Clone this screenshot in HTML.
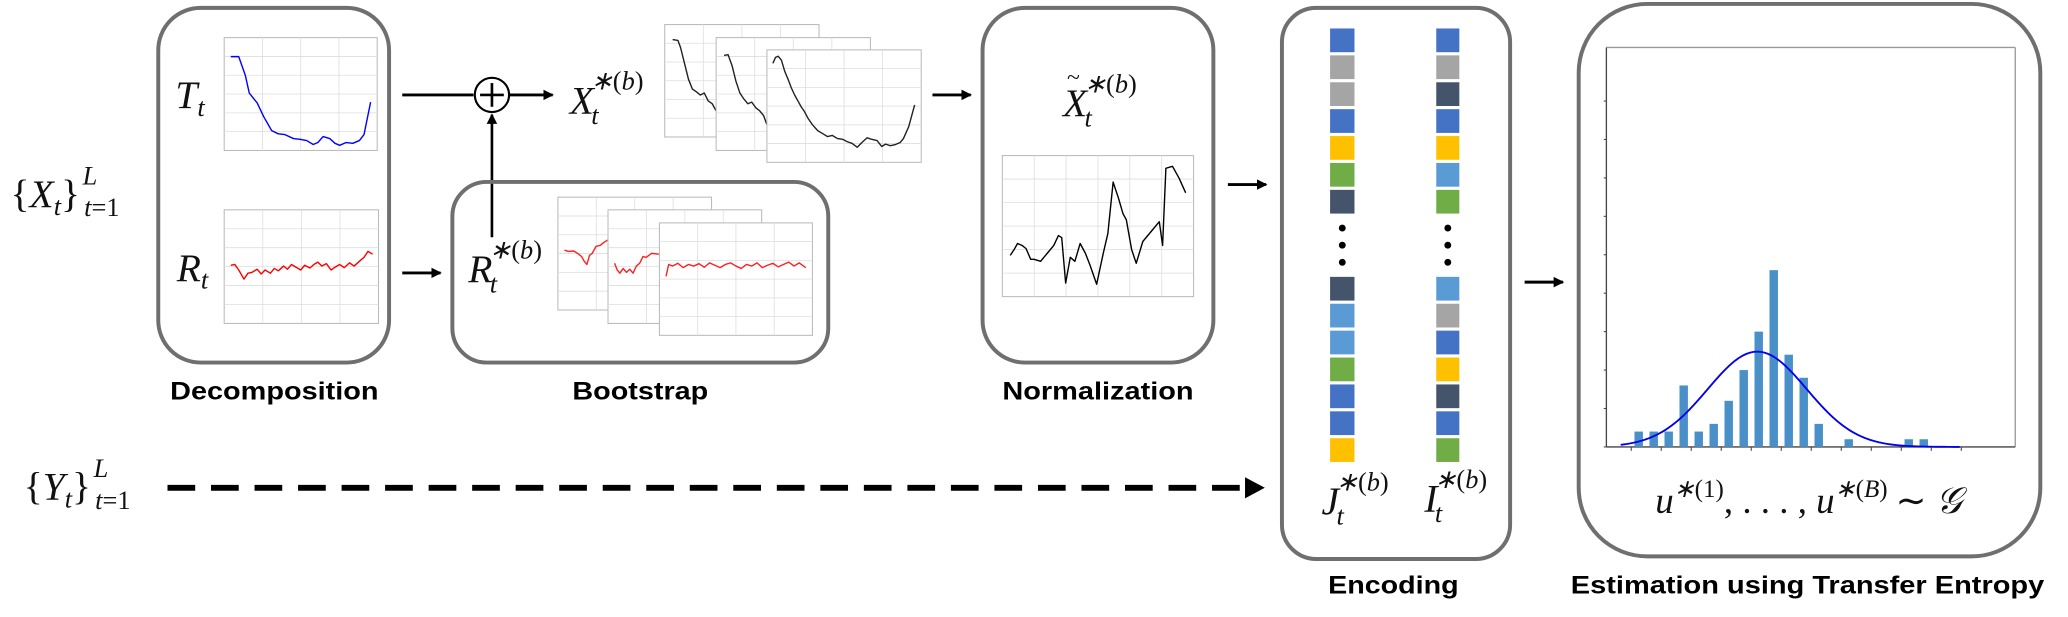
<!DOCTYPE html>
<html><head><meta charset="utf-8"><style>
html,body{margin:0;padding:0;background:#fff;}
svg{display:block;}
.m{font-family:"Liberation Serif",serif;font-style:italic;fill:#111;}
.r{font-family:"Liberation Serif",serif;font-style:normal;fill:#111;}
.lab{font-family:"Liberation Sans",sans-serif;font-weight:bold;fill:#000;font-size:19px;}
.box{fill:none;stroke:#6f6f6f;stroke-width:3;}
.grid{stroke:#ddd;stroke-width:0.6;}
.frame{fill:#fff;stroke:#bbb;stroke-width:0.8;}
.ln{fill:none;vector-effect:non-scaling-stroke;stroke-width:1.4;stroke-linejoin:round;}
</style></head><body>
<svg id="fig" width="2068" height="617" viewBox="0 0 1568 468" preserveAspectRatio="none">
<defs>
<marker id="ah" markerWidth="8" markerHeight="8" refX="7" refY="4" orient="auto" markerUnits="userSpaceOnUse"><path d="M0,0 L8,4 L0,8 z" fill="#000"/></marker>
<marker id="ah2" markerWidth="12" markerHeight="12" refX="11" refY="6" orient="auto" markerUnits="userSpaceOnUse"><path d="M0,0 L12,6 L0,12 z" fill="#000"/></marker>
</defs>

<!-- Input labels -->
<text class="m" x="8" y="157" font-size="30"><tspan class="r">{</tspan>X<tspan font-size="20" dy="6">t</tspan><tspan class="r" dy="-6">}</tspan><tspan font-size="20" dx="2" dy="-17">L</tspan><tspan font-size="20" dx="-10" dy="24">t</tspan><tspan class="r" font-size="20">=1</tspan></text>
<text class="m" x="18" y="379" font-size="30"><tspan class="r">{</tspan>Y<tspan font-size="20" dy="6">t</tspan><tspan class="r" dy="-6">}</tspan><tspan font-size="20" dx="2" dy="-17">L</tspan><tspan font-size="20" dx="-10" dy="24">t</tspan><tspan class="r" font-size="20">=1</tspan></text>

<!-- Decomposition -->
<rect class="box" x="120" y="6" width="175" height="269" rx="32"/>
<text class="m" x="133" y="82" font-size="30">T<tspan font-size="20" dy="6">t</tspan></text>
<text class="m" x="134" y="213" font-size="30">R<tspan font-size="20" dy="6">t</tspan></text>
<g id="ch-trend"></g>
<g id="ch-res"></g>
<text class="lab" x="129" y="303" textLength="158" lengthAdjust="spacingAndGlyphs">Decomposition</text>

<!-- arrows top -->
<line x1="305" y1="72" x2="359" y2="72" stroke="#000" stroke-width="2.2"/>
<circle cx="373" cy="72" r="13" fill="#fff" stroke="#000" stroke-width="1.6"/>
<line x1="364" y1="72" x2="382" y2="72" stroke="#000" stroke-width="2"/>
<line x1="373" y1="63" x2="373" y2="81" stroke="#000" stroke-width="2"/>
<line x1="386" y1="72" x2="419" y2="72" stroke="#000" stroke-width="2.2" marker-end="url(#ah)"/>
<line x1="373" y1="180" x2="373" y2="87" stroke="#000" stroke-width="2" marker-end="url(#ah)"/>
<line x1="305" y1="207" x2="334" y2="207" stroke="#000" stroke-width="2.2" marker-end="url(#ah)"/>
<text class="m" x="432" y="86" font-size="30">X<tspan font-size="20" dx="-2" dy="8">t</tspan><tspan font-size="20" dx="-6" dy="-26">∗</tspan><tspan class="r" font-size="20">(</tspan><tspan font-size="20">b</tspan><tspan class="r" font-size="20">)</tspan></text>
<g id="ch-xs"></g>
<line x1="707" y1="72" x2="736" y2="72" stroke="#000" stroke-width="2.2" marker-end="url(#ah)"/>

<!-- Bootstrap -->
<rect class="box" x="343" y="138" width="285" height="137" rx="26"/>
<text class="m" x="355" y="214" font-size="30">R<tspan font-size="20" dx="-2" dy="8">t</tspan><tspan font-size="20" dx="-6" dy="-26">∗</tspan><tspan class="r" font-size="20">(</tspan><tspan font-size="20">b</tspan><tspan class="r" font-size="20">)</tspan></text>
<g id="ch-rs"></g>
<text class="lab" x="434" y="303" textLength="103" lengthAdjust="spacingAndGlyphs">Bootstrap</text>

<!-- Normalization -->
<rect class="box" x="745" y="6" width="175" height="269" rx="32"/>
<text class="m" x="806" y="88" font-size="30">X<tspan font-size="20" dx="-2" dy="8">t</tspan><tspan font-size="20" dx="-6" dy="-26">∗</tspan><tspan class="r" font-size="20">(</tspan><tspan font-size="20">b</tspan><tspan class="r" font-size="20">)</tspan></text>
<text class="r" x="809" y="64" font-size="18">~</text>
<g id="ch-norm"></g>
<text class="lab" x="760" y="303" textLength="145" lengthAdjust="spacingAndGlyphs">Normalization</text>
<line x1="931" y1="140" x2="960" y2="140" stroke="#000" stroke-width="2.2" marker-end="url(#ah)"/>

<!-- Dashed Y line -->
<line x1="127" y1="370" x2="944" y2="370" stroke="#000" stroke-width="4.5" stroke-dasharray="21,12"/>
<path d="M944,362 L959,370 L944,378 z" fill="#000"/>

<!-- Encoding -->
<rect class="box" x="972" y="6" width="173" height="418" rx="26"/>
<g id="enc"></g>
<text class="m" x="1002" y="390" font-size="30">J<tspan font-size="20" dx="-2" dy="8">t</tspan><tspan font-size="20" dx="-6" dy="-26">∗</tspan><tspan class="r" font-size="20">(</tspan><tspan font-size="20">b</tspan><tspan class="r" font-size="20">)</tspan></text>
<text class="m" x="1080" y="388" font-size="30">I<tspan font-size="20" dx="-2" dy="8">t</tspan><tspan font-size="20" dx="-6" dy="-26">∗</tspan><tspan class="r" font-size="20">(</tspan><tspan font-size="20">b</tspan><tspan class="r" font-size="20">)</tspan></text>
<text class="lab" x="1007" y="450" textLength="99" lengthAdjust="spacingAndGlyphs">Encoding</text>
<line x1="1156" y1="214" x2="1185" y2="214" stroke="#000" stroke-width="2.2" marker-end="url(#ah)"/>

<!-- Estimation -->
<rect class="box" x="1197" y="3" width="350" height="419" rx="52"/>
<g id="hist"></g>
<text class="m" x="1255" y="389" font-size="28">u<tspan font-size="19" dy="-12">∗</tspan><tspan class="r" font-size="19">(1)</tspan><tspan class="r" dy="12">, . . . ,</tspan> u<tspan font-size="19" dy="-12">∗</tspan><tspan class="r" font-size="19">(</tspan><tspan font-size="19">B</tspan><tspan class="r" font-size="19">)</tspan><tspan class="r" dy="12" dx="6">∼</tspan> <tspan font-family="Liberation Serif" font-style="italic">𝒢</tspan></text>
<text class="lab" x="1191" y="450" textLength="359" lengthAdjust="spacingAndGlyphs">Estimation using Transfer Entropy</text>
</svg>
<script>
// ---- data arrays (zoom-space coordinates for illustrative mini series) ----
const trendX=[350,362,372,378,390,400,412,422,432,445,455,465,475,482,490,500,508,515,525,535,545,552,562];
const trendY=[143,143,190,235,260,295,330,338,340,350,352,355,365,360,345,350,362,367,360,362,355,340,258];
const resX=[350,356,362,370,376,382,390,396,402,410,416,422,430,436,442,450,456,462,470,476,482,488,495,502,508,515,522,530,537,545,552,558,565];
const resY=[670,668,682,705,690,688,680,692,682,690,678,684,672,680,668,676,682,670,677,668,662,672,666,682,675,668,676,664,672,660,650,635,642];
const xs1X=[1020,1028,1032,1038,1044,1050,1056,1062,1068,1074,1080,1086];
const xs1Y=[100,102,120,160,200,225,232,240,235,255,262,280];
const xs2X=[1098,1104,1110,1116,1122,1128,1134,1140,1146,1152,1158,1163];
const xs2Y=[140,138,165,205,235,250,262,258,272,280,292,315];
const xs3X=[1172,1176,1180,1185,1190,1195,1200,1205,1210,1215,1220,1225,1232,1240,1248,1255,1262,1270,1278,1285,1292,1300,1307,1315,1322,1330,1337,1343,1350,1358,1365,1370,1378,1387];
const xs3Y=[160,145,142,152,180,200,222,240,255,270,282,298,315,330,338,345,342,350,352,358,362,372,360,348,352,355,370,364,368,365,360,350,320,265];
const rs1X=[856,862,870,876,882,886,890,894,898,904,910,916,923];
const rs1Y=[632,635,634,640,648,660,668,645,640,622,620,612,605];
const rs2X=[932,936,940,945,950,955,960,965,970,975,980,988,1000];
const rs2Y=[665,682,690,678,688,680,690,672,665,648,650,640,642];
const rs3X=[1010,1014,1020,1028,1036,1044,1052,1060,1068,1076,1084,1092,1100,1108,1116,1124,1132,1140,1148,1156,1164,1172,1180,1188,1196,1204,1212,1222];
const rs3Y=[698,668,672,665,676,668,672,666,675,664,670,676,668,664,672,678,668,672,664,676,670,665,674,668,662,672,664,676];
const normX=[-36,-30,-25,-18,-12,-5,0,10,20,30,37,42,48,55,62,70,78,85,95,105,112,120,128,135,140,148,155,165,180,190,195,200,210,220,230];
const normY=[645,630,615,620,628,655,655,660,640,620,595,600,715,650,660,615,640,670,718,640,590,460,500,540,555,630,665,610,580,560,620,425,420,450,487];
const colJ=['#4472c4','#a5a5a5','#a5a5a5','#4472c4','#ffc000','#70ad47','#44546a','#44546a','#5b9bd5','#5b9bd5','#70ad47','#4472c4','#4472c4','#ffc000'];
const colI=['#4472c4','#a5a5a5','#44546a','#4472c4','#ffc000','#5b9bd5','#70ad47','#5b9bd5','#a5a5a5','#4472c4','#ffc000','#44546a','#4472c4','#70ad47'];
const histBins=[0,1,2,3,4,5,6,7,8,9,10,11,12,13,14,15,16,17,18,19];
const histCounts=[2,2,2,8,2,3,6,10,15,23,12,9,3,0,1,0,0,0,1,1];
const gaussMean=7.9, gaussSigma=3.3, gaussPeak=12.4;
const yTicks=[0,5,10,15,20,25,30,35,40,45];

const NS='http://www.w3.org/2000/svg';
function mk(tag,attrs,parent){const e=document.createElementNS(NS,tag);for(const k in attrs)e.setAttribute(k,attrs[k]);parent.appendChild(e);return e;}
// zoom-space -> figure coords
const zx=(x,off)=>(off||0)+x/2, zy=y=>y/3.33;
function frame(g,x0,y0,x1,y1,nx,ny){
  const X0=zx(x0),Y0=zy(y0),X1=zx(x1),Y1=zy(y1);
  const r=mk('rect',{class:'frame',x:X0,y:Y0,width:X1-X0,height:Y1-Y0},g);
  
  
  for(let i=1;i<nx;i++){const x=X0+(X1-X0)*i/nx;mk('line',{class:'grid',x1:x,y1:Y0,x2:x,y2:Y1},g);}
  for(let i=1;i<ny;i++){const y=Y0+(Y1-Y0)*i/ny;mk('line',{class:'grid',x1:X0,y1:y,x2:X1,y2:y},g);}
}
function line(g,xs,ys,color,off){
  const pts=xs.map((x,i)=>zx(x,off)+','+zy(ys[i])).join(' ');
  const p=mk('polyline',{class:'ln',points:pts,stroke:color},g);
  
  
}
const gT=document.getElementById('ch-trend');frame(gT,340,95,572,380,4,6);line(gT,trendX,trendY,'#0000ff');
const gR=document.getElementById('ch-res');frame(gR,340,530,574,817,4,6);line(gR,resX,resY,'#ff0000');
const gX=document.getElementById('ch-xs');
frame(gX,1008,62,1242,346,4,6);line(gX,xs1X,xs1Y,'#222');
frame(gX,1086,95,1320,380,4,6);line(gX,xs2X,xs2Y,'#222');
frame(gX,1163,126,1397,410,4,6);line(gX,xs3X,xs3Y,'#222');
const gRs=document.getElementById('ch-rs');
frame(gRs,846,498,1079,783,4,6);line(gRs,rs1X,rs1Y,'#ff2020');
frame(gRs,922,530,1155,817,4,6);line(gRs,rs2X,rs2Y,'#ff2020');
frame(gRs,1000,563,1232,847,4,6);line(gRs,rs3X,rs3Y,'#ff2020');
// normalization chart (zoom2 space offset 784)
const gN=document.getElementById('ch-norm');
mk('rect',{class:'frame',x:760,y:118,width:145,height:107},gN);
for(let i=1;i<6;i++){mk('line',{class:'grid',x1:760+145*i/6,y1:118,x2:760+145*i/6,y2:225},gN);}
for(let i=1;i<6;i++){mk('line',{class:'grid',x1:760,y1:118+107*i/6,x2:905,y2:118+107*i/6},gN);}
line(gN,normX,normY,'#000',784);
// encoding columns
const gE=document.getElementById('enc');
function col(arr,x,w){
  arr.forEach((c,i)=>{
    const y = i<7 ? 21.6+i*20.4 : 210+(i-7)*20.4;
    const r=mk('rect',{x:x,y:y,width:w,height:18,fill:c},gE);
    
    
  });
  [173,186,199].forEach(y=>mk('circle',{cx:x+w/2,cy:y,r:2.6,fill:'#000'},gE));
}
col(colJ,1008.5,18.5);col(colI,1089,17.5);
// histogram
const gH=document.getElementById('hist');
const hx0=1218,hx1=1528,hy0=36,base=339,unit=5.83;
const binX=b=>1242.5+b*11.375;
const yS=v=>base-v*unit;
mk('line',{x1:hx0,y1:hy0,x2:hx1,y2:hy0,stroke:'#999','stroke-width':1},gH);
mk('line',{x1:hx1,y1:hy0,x2:hx1,y2:base,stroke:'#999','stroke-width':1},gH);
mk('line',{x1:hx0,y1:hy0,x2:hx0,y2:base,stroke:'#444','stroke-width':1},gH);
mk('line',{x1:hx0,y1:base,x2:hx1,y2:base,stroke:'#444','stroke-width':1},gH);
yTicks.forEach(v=>mk('line',{x1:hx0-2,y1:yS(v),x2:hx0,y2:yS(v),stroke:'#444','stroke-width':0.8},gH));
for(let b=-1;b<=22;b+=2){const x=binX(b)+5.7;if(x>hx0&&x<hx1)mk('line',{x1:x,y1:base,x2:x,y2:base+3,stroke:'#444','stroke-width':0.8},gH);}
histBins.forEach((b,i)=>{
  if(!histCounts[i])return;
  const r=mk('rect',{x:binX(b)-3.2,y:yS(histCounts[i]),width:6.4,height:histCounts[i]*unit,fill:'#4a90c8'},gH);
  
  
});
let gp=[];for(let b=-1.2;b<=21.5;b+=0.2){gp.push(binX(b)+','+yS(gaussPeak*Math.exp(-0.5*((b-gaussMean)/gaussSigma)**2)));}
const gc=mk('polyline',{points:gp.join(' '),fill:'none',stroke:'#0000ee','stroke-width':1.4},gH);


</script>
</body></html>
